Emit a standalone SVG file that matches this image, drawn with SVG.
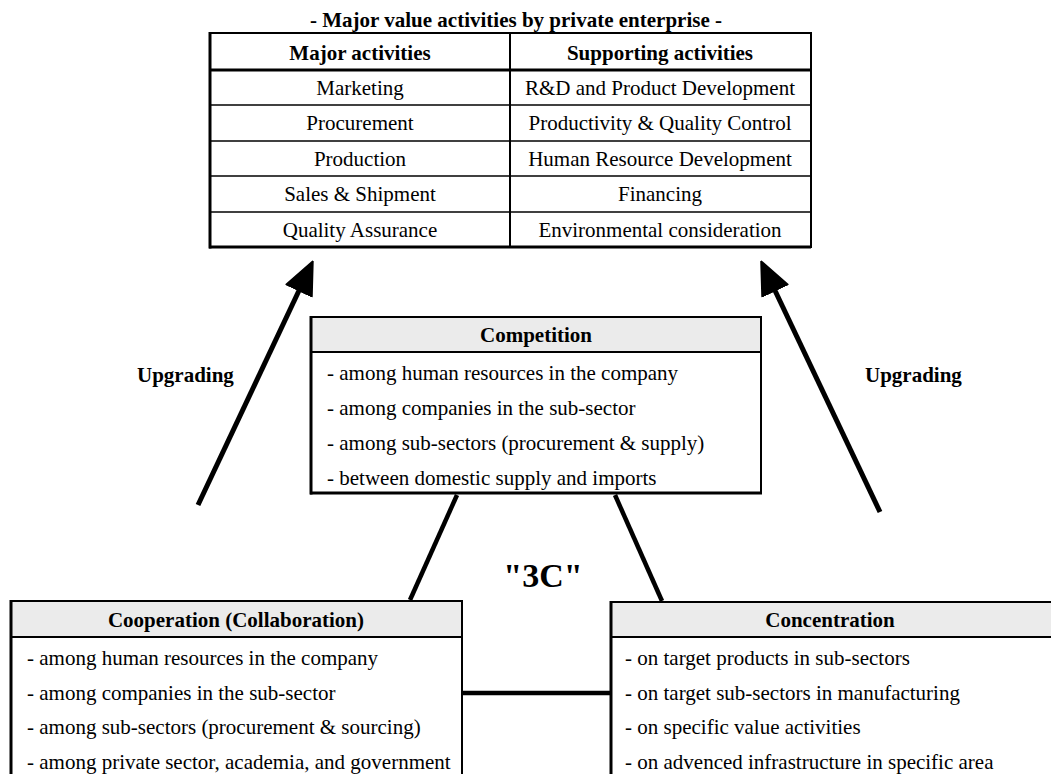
<svg xmlns="http://www.w3.org/2000/svg" width="1051" height="774" viewBox="0 0 1051 774">
<style>
text{font-family:"Liberation Serif","Times New Roman",serif;font-size:21px;fill:#000}
.b{font-weight:bold}
.c{text-anchor:middle}
.thin{stroke:#000;stroke-width:2;fill:none}
.thick{stroke:#000;stroke-width:3;fill:none}
.row{stroke:#000;stroke-width:1.5}
.hdr{fill:#ebebeb}
.conn{stroke:#000;stroke-width:4.5;fill:none;stroke-linecap:butt}
.arr{stroke:#000;stroke-width:5;fill:none}
</style>
<defs>
<marker id="ah" markerUnits="userSpaceOnUse" markerWidth="34" markerHeight="34" viewBox="0 0 34 34" refX="2" refY="17" orient="auto">
<path d="M1,3 L33,17 L1,31 Z" fill="#000" stroke="#000" stroke-width="2" stroke-linejoin="round"/>
</marker>
</defs>
<rect width="1051" height="774" fill="#fff"/>

<g id="table">
<text class="b c" x="516" y="27">- Major value activities by private enterprise -</text>
<rect x="210" y="33" width="601" height="214" fill="#fff" stroke="#000" stroke-width="2"/>
<line class="thick" x1="210" y1="32" x2="210" y2="248.5"/>
<line class="thick" x1="209" y1="247" x2="811" y2="247"/>
<line class="thick" x1="210" y1="70" x2="811" y2="70"/>
<line class="row" x1="210" y1="105" x2="811" y2="105"/>
<line class="row" x1="210" y1="141" x2="811" y2="141"/>
<line class="row" x1="210" y1="176" x2="811" y2="176"/>
<line class="row" x1="210" y1="212" x2="811" y2="212"/>
<line class="thin" x1="510" y1="33" x2="510" y2="247"/>
<text class="b c" x="360" y="60">Major activities</text>
<text class="b c" x="660" y="60">Supporting activities</text>
<text class="c" x="360" y="95">Marketing</text>
<text class="c" x="360" y="130">Procurement</text>
<text class="c" x="360" y="166">Production</text>
<text class="c" x="360" y="201">Sales &amp; Shipment</text>
<text class="c" x="360" y="237">Quality Assurance</text>
<text class="c" x="660" y="95">R&amp;D and Product Development</text>
<text class="c" x="660" y="130">Productivity &amp; Quality Control</text>
<text class="c" x="660" y="166">Human Resource Development</text>
<text class="c" x="660" y="201">Financing</text>
<text class="c" x="660" y="237">Environmental consideration</text>
</g>

<g id="competition">
<rect x="311" y="317" width="450" height="176" fill="#fff" stroke="#000" stroke-width="2"/>
<rect class="hdr" x="312" y="318" width="448" height="34"/>
<line class="thin" x1="311" y1="352" x2="761" y2="352"/>
<line class="thick" x1="311" y1="316" x2="311" y2="494.5"/>
<line class="thick" x1="310" y1="493" x2="762" y2="493"/>
<text class="b c" x="536" y="342">Competition</text>
<text x="327" y="380">- among human resources in the company</text>
<text x="327" y="415">- among companies in the sub-sector</text>
<text x="327" y="450">- among sub-sectors (procurement &amp; supply)</text>
<text x="327" y="485">- between domestic supply and imports</text>
</g>

<g id="cooperation">
<rect x="11" y="601" width="451" height="185" fill="#fff" stroke="#000" stroke-width="2"/>
<rect class="hdr" x="12" y="602" width="449" height="35"/>
<line class="thin" x1="11" y1="637" x2="462" y2="637"/>
<line class="thick" x1="11" y1="600" x2="11" y2="786"/>
<text class="b c" x="236" y="627">Cooperation (Collaboration)</text>
<text x="27" y="665">- among human resources in the company</text>
<text x="27" y="700">- among companies in the sub-sector</text>
<text x="27" y="734">- among sub-sectors (procurement &amp; sourcing)</text>
<text x="27" y="769">- among private sector, academia, and government</text>
</g>

<g id="concentration">
<rect x="611" y="602" width="445" height="185" fill="#fff" stroke="#000" stroke-width="2"/>
<rect class="hdr" x="612" y="603" width="443" height="34"/>
<line class="thin" x1="611" y1="637" x2="1056" y2="637"/>
<line class="thick" x1="611" y1="601" x2="611" y2="787"/>
<text class="b c" x="830" y="627">Concentration</text>
<text x="625" y="665">- on target products in sub-sectors</text>
<text x="625" y="700">- on target sub-sectors in manufacturing</text>
<text x="625" y="734">- on specific value activities</text>
<text x="625" y="769">- on advenced infrastructure in specific area</text>
</g>

<g id="connectors">
<line class="conn" x1="457" y1="495" x2="410" y2="600"/>
<line class="conn" x1="615" y1="495" x2="662" y2="601"/>
<line class="conn" x1="463" y1="693" x2="610" y2="693"/>
<line class="arr" x1="198" y1="505" x2="299.5" y2="289.5" marker-end="url(#ah)"/>
<line class="arr" x1="880" y1="512" x2="774.5" y2="289.5" marker-end="url(#ah)"/>
</g>

<g id="labels">
<text class="b" x="137" y="382">Upgrading</text>
<text class="b" x="865" y="382">Upgrading</text>
<text class="b c" x="543" y="587" style="font-size:34px">"3C"</text>
</g>
</svg>
